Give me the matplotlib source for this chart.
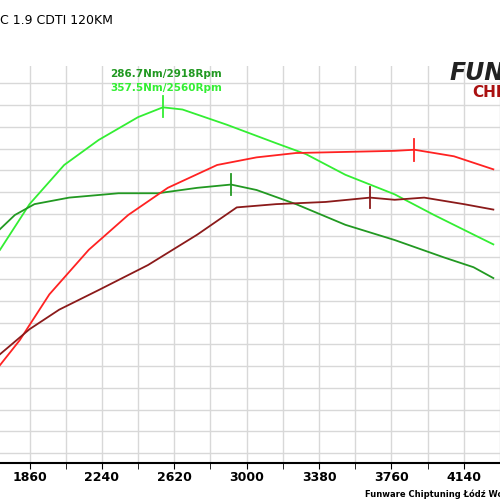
import matplotlib
matplotlib.use("Agg")
import matplotlib.pyplot as plt

rpm_tuned_t = [1705,1860,2042,2223,2430,2560,2663,2896,3155,3311,3518,3777,3984,4191,4295]
nm_tuned_t  = [227,269,305,328,349,358,356,342,325,315,296,278,259,241,232]
rpm_stock_t = [1705,1783,1886,2068,2327,2534,2741,2918,3052,3259,3518,3777,4036,4191,4295]
nm_stock_t  = [246,259,269,275,279,279,284,287,282,269,250,236,220,211,201]
rpm_tuned_p = [1705,1809,1964,2171,2378,2586,2845,3052,3259,3518,3777,3881,4088,4295]
km_tuned_p  = [121,144,186,227,259,284,305,312,316,317,318,319,313,301]
rpm_stock_p = [1705,1860,2016,2223,2482,2741,2948,3155,3414,3648,3777,3932,4140,4295]
km_stock_p  = [131,154,172,190,213,241,266,269,271,275,273,275,269,264]
xticks = [1860,2240,2620,3000,3380,3760,4140]

fig = plt.figure(figsize=(5,5), dpi=100)
ax = fig.add_axes([0, 0.074, 1, 0.794])
ax.set_xlim(1705, 4295)
ax.set_ylim(31, 396)
ax.set_xticks(xticks)
ax.set_xticks([x+190 for x in [1670]+xticks], minor=True)
ax.set_yticks(range(40, 400, 20))
ax.grid(True, which='both', color='#d8d8d8', lw=1)
for s in ['top','left','right']:
    ax.spines[s].set_visible(False)
ax.spines['bottom'].set_linewidth(1.5)
ax.tick_params(axis='y', left=False, labelleft=False)
ax.tick_params(axis='x', which='both', length=4, labelsize=9, pad=2)
for l in ax.get_xticklabels():
    l.set_fontweight('bold')

ax.plot(rpm_tuned_t, nm_tuned_t, color='#33ee33', lw=1.3)
ax.plot(rpm_stock_t, nm_stock_t, color='#229922', lw=1.3)
ax.plot(rpm_tuned_p, km_tuned_p, color='#ff2222', lw=1.3)
ax.plot(rpm_stock_p, km_stock_p, color='#8b1a1a', lw=1.3)
ax.plot([2560,2560],[349,368], color='#33ee33', lw=1.3)
ax.plot([2918,2918],[277,297], color='#229922', lw=1.3)
ax.plot([3881,3881],[309,329], color='#ff2222', lw=1.3)
ax.plot([3648,3648],[265,285], color='#8b1a1a', lw=1.3)

fig.text(0.22, 0.852, "286.7Nm/2918Rpm", color='#229922', fontsize=7.5, fontweight='bold', va='center')
fig.text(0.22, 0.824, "357.5Nm/2560Rpm", color='#33ee33', fontsize=7.5, fontweight='bold', va='center')
fig.text(0.0, 0.96, "C 1.9 CDTI 120KM", fontsize=9, va='center', family='DejaVu Sans')
fig.text(0.9, 0.855, "FUN", fontsize=17, fontweight='bold', style='italic', color='#222222', va='center')
fig.text(0.945, 0.815, "CHI", fontsize=11, fontweight='bold', color='#aa1111', va='center')
fig.text(0.73, 0.012, "Funware Chiptuning Łódź Wod", fontsize=6, fontweight='bold', va='center')
fig.savefig("out.png", dpi=100)
